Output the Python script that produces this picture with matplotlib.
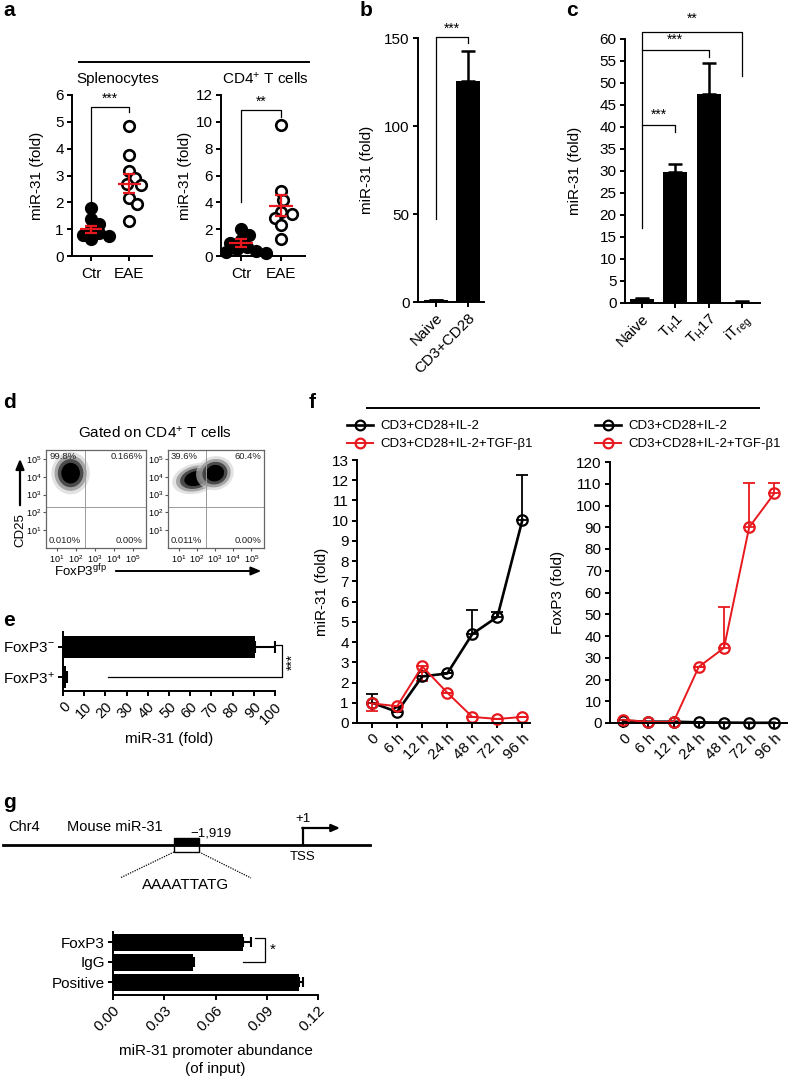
import matplotlib
matplotlib.use('Agg')
import matplotlib.pyplot as plt
from matplotlib.patches import Ellipse, Rectangle
from matplotlib.lines import Line2D
import numpy as np

plt.rcParams['font.family'] = ['Liberation Sans', 'DejaVu Sans']
plt.rcParams['mathtext.fontset'] = 'custom'
plt.rcParams['mathtext.rm'] = 'Liberation Sans'
plt.rcParams['mathtext.it'] = 'Liberation Sans:italic'
plt.rcParams['mathtext.bf'] = 'Liberation Sans:bold'
plt.rcParams['axes.linewidth'] = 1.4
plt.rcParams['xtick.major.width'] = 1.4
plt.rcParams['ytick.major.width'] = 1.4
plt.rcParams['xtick.major.size'] = 3.5
plt.rcParams['ytick.major.size'] = 3.5
plt.rcParams['xtick.direction'] = 'out'
plt.rcParams['ytick.direction'] = 'out'

RED = '#e8191e'
FS = 11

# ---------------- data ----------------
a_groups = ['Ctr', 'EAE']
a_spl_ctr = [1.8, 1.38, 1.2, 1.0, 0.85, 0.8, 0.75, 0.65]
a_spl_eae = [4.85, 3.75, 3.15, 2.9, 2.7, 2.65, 2.15, 1.95, 1.3]
a_spl_mean = [1.0, 2.7]
a_spl_sem = [0.13, 0.37]
a_cd4_ctr = [2.0, 1.6, 1.2, 1.0, 0.7, 0.5, 0.4, 0.3, 0.2]
a_cd4_eae = [9.8, 4.85, 4.2, 3.3, 3.15, 2.8, 2.3, 1.3]
a_cd4_mean = [0.95, 3.75]
a_cd4_sem = [0.3, 0.8]

b_labels = ['Naive', 'CD3+CD28']
b_values = [1.0, 125.5]
b_errors = [0.3, 17.0]

c_labels = ['Naive', r'T$_\mathrm{H}$1', r'T$_\mathrm{H}$17', r'iT$_\mathrm{reg}$']
c_values = [1.0, 29.7, 47.6, 0.3]
c_errors = [0.1, 2.0, 7.0, 0.05]

d_quad_left = ['99.8%', '0.166%', '0.010%', '0.00%']
d_quad_right = ['39.6%', '60.4%', '0.011%', '0.00%']
d_ticklabels = [r'10$^1$', r'10$^2$', r'10$^3$', r'10$^4$', r'10$^5$']

e_labels = [r'FoxP3$^{+}$', r'FoxP3$^{-}$']
e_values = [1.5, 90.5]
e_errors = [0.3, 9.5]

f_times = ['0', '6 h', '12 h', '24 h', '48 h', '72 h', '96 h']
f_series = ['CD3+CD28+IL-2', 'CD3+CD28+IL-2+TGF-β1']
f_mir_ctrl = [1.0, 0.55, 2.3, 2.45, 4.4, 5.25, 10.05]
f_mir_ctrl_err_up = [0.45, 0, 0, 0, 1.2, 0.25, 2.2]
f_mir_tgf = [0.97, 0.83, 2.8, 1.5, 0.3, 0.2, 0.3]
f_mir_tgf_err_down = [0.4, 0, 0.7, 0, 0, 0, 0]
f_fox_ctrl = [1.0, 0.6, 0.6, 0.3, 0.2, 0.1, 0.1]
f_fox_tgf = [1.5, 0.5, 0.5, 25.8, 34.5, 90.0, 105.6]
f_fox_tgf_err_up = [0, 0, 0, 0, 19.0, 20.5, 4.6]

g_labels = ['Positive', 'IgG', 'FoxP3']
g_values = [0.109, 0.047, 0.076]
g_errors = [0.0022, 0.0004, 0.005]

# ---------------- figure ----------------
W, H = 788, 1078
fig = plt.figure(figsize=(W / 100, H / 100), dpi=100)
AX_BOX = {}


def add_ax(l, t, r, b):
    ax = fig.add_axes([l / W, 1 - b / H, (r - l) / W, (b - t) / H])
    AX_BOX[ax] = (l, t, r, b)
    return ax


def ylabel_at(ax, text, xc, fs=FS):
    l, t, r, b = AX_BOX[ax]
    ax.set_ylabel(text, fontsize=fs)
    ax.yaxis.set_label_coords((xc + 7 - l) / (r - l), 0.5)


def xlabel_at(ax, text, ytop, fs=FS, **kw):
    l, t, r, b = AX_BOX[ax]
    ax.set_xlabel(text, fontsize=fs, **kw)
    ax.xaxis.set_label_coords(0.5, (b - ytop) / (b - t))


def clean(ax):
    ax.spines['top'].set_visible(False)
    ax.spines['right'].set_visible(False)


def rot_labels(ax, labels, fs=FS):
    ax.set_xticklabels(labels, rotation=45, ha='right', va='top',
                       rotation_mode='anchor', fontsize=fs)


def swarm_offsets(values, ypx, xpx, diam):
    values = np.asarray(values, float)
    order = np.argsort(values)[::-1]
    placed = []
    offs = np.zeros(len(values))
    cands = [0.0]
    for k in range(1, 40):
        cands += [k * diam * 0.2, -k * diam * 0.2]
    for i in order:
        y = values[i] * ypx
        for c in cands:
            if all((c - px) ** 2 + (y - py) ** 2 >= (diam * 0.85) ** 2 for px, py in placed):
                break
        placed.append((c, y))
        offs[i] = c / xpx
    return offs


# ---------- panel a ----------
def panel_a(ax, ctr, eae, mean, sem, ymax, ystep, ypx, ylx):
    clean(ax)
    for gi, (vals, filled) in enumerate([(ctr, True), (eae, False)]):
        offs = swarm_offsets(vals, ypx, 40.0, 10.5)
        ax.plot(gi + offs, vals, 'o', ms=7.6,
                mfc='black' if filled else 'white', mec='black', mew=1.9,
                ls='none', clip_on=False, zorder=3)
    for gi in range(2):
        ax.hlines(mean[gi], gi - 0.3, gi + 0.3, color=RED, lw=1.6, zorder=4)
    ax.errorbar([0, 1], mean, yerr=sem, fmt='none', ecolor=RED,
                elinewidth=1.6, capsize=4.5, capthick=1.6, zorder=4)
    ax.set_xlim(-0.5, 1.6)
    ax.set_ylim(0, ymax)
    ax.set_yticks(np.arange(0, ymax + 0.01, ystep))
    ax.set_xticks([0, 1])
    ax.set_xticklabels(a_groups, fontsize=FS)
    ax.tick_params(labelsize=FS, pad=2.5)
    ax.tick_params(axis='x', pad=4.5)
    ylabel_at(ax, 'miR-31 (fold)', ylx)


a1 = add_ax(72, 95, 152, 256)
panel_a(a1, a_spl_ctr, a_spl_eae, a_spl_mean, a_spl_sem, 6, 1, 26.8, 37)
a1.plot([0, 0, 1, 1], [2.05, 5.55, 5.55, 5.35], color='black', lw=0.9, clip_on=False)
a1.text(0.5, 5.6, '***', ha='center', va='bottom', fontsize=10)
a2 = add_ax(221, 95, 305, 256)
panel_a(a2, a_cd4_ctr, a_cd4_eae, a_cd4_mean, a_cd4_sem, 12, 2, 13.4, 185)
a2.plot([0, 0, 1, 1], [4.0, 10.85, 10.85, 10.35], color='black', lw=0.9, clip_on=False)
a2.text(0.5, 10.95, '**', ha='center', va='bottom', fontsize=10)

# ---------- panel b ----------
bx = add_ax(418, 38, 484, 302)
clean(bx)
bx.bar([0, 1], b_values, width=0.75, color='black')
bx.errorbar([0, 1], b_values, yerr=[[0, 0], b_errors], fmt='none', ecolor='black',
            elinewidth=1.8, capsize=5, capthick=1.8)
bx.set_xlim(-0.56, 1.5)
bx.set_ylim(0, 150)
bx.set_yticks([0, 50, 100, 150])
bx.set_xticks([0, 1])
rot_labels(bx, b_labels)
bx.tick_params(labelsize=FS, pad=2.5)
ylabel_at(bx, 'miR-31 (fold)', 367)
bx.plot([0, 0, 1, 1], [47, 150.3, 150.3, 147], color='black', lw=0.9, clip_on=False)
bx.text(0.5, 151.5, '***', ha='center', va='bottom', fontsize=10)

# ---------- panel c ----------
cx = add_ax(625, 39, 760, 303)
clean(cx)
cpos = np.arange(len(c_values))
cx.bar(cpos, c_values, width=0.72, color='black')
cx.errorbar(cpos, c_values, yerr=[[0] * 4, c_errors], fmt='none', ecolor='black',
            elinewidth=1.8, capsize=5, capthick=1.8)
cx.set_xlim(-0.51, 3.54)
cx.set_ylim(0, 60)
cx.set_yticks(np.arange(0, 61, 5))
cx.set_xticks(cpos)
rot_labels(cx, c_labels)
cx.tick_params(labelsize=FS, pad=2.5)
ylabel_at(cx, 'miR-31 (fold)', 575)
cx.plot([0, 0, 3, 3], [17, 61.7, 61.7, 51.5], color='black', lw=0.9, clip_on=False)
cx.plot([0, 2, 2], [57.6, 57.6, 56.0], color='black', lw=0.9, clip_on=False)
cx.plot([0, 1, 1], [40.4, 40.4, 38.8], color='black', lw=0.9, clip_on=False)
cx.text(1.5, 63.0, '**', ha='center', va='bottom', fontsize=10)
cx.text(1.0, 58.3, '***', ha='center', va='bottom', fontsize=10)
cx.text(0.5, 41.1, '***', ha='center', va='bottom', fontsize=10)

# ---------- panel d ----------
# cloud outlines: (centre x, centre y, width, height, angle) in decade units
d_clusters_left = [(1.72, 4.2, 1.45, 1.7, 0)]
d_clusters_right = [(1.95, 3.9, 1.9, 1.2, 15), (3.0, 4.2, 1.5, 1.35, 20)]


def panel_d(ax, quads, clusters):
    ax.set_xlim(0.42, 5.7)
    ax.set_ylim(0, 5.5)
    for s in ax.spines.values():
        s.set_color('#666666')
        s.set_linewidth(0.9)
    for (cxp, cyp, wx, wy, ang) in clusters:
        for scale, gray, alpha in [(1.4, '#d0d0d0', 0.6), (1.17, '#8a8a8a', 0.7),
                                   (0.93, '#3a3a3a', 0.85), (0.68, '#000000', 1.0)]:
            ax.add_patch(Ellipse((cxp, cyp), wx * scale, wy * scale, angle=ang,
                                 fc=gray, ec='none', alpha=alpha, lw=0))
    ax.axvline(2.5, color='#9a9a9a', lw=0.7)
    ax.axhline(2.3, color='#9a9a9a', lw=0.7)
    ax.set_xticks([1, 2, 3, 4, 5])
    ax.set_yticks([1, 2, 3, 4, 5])
    ax.set_xticklabels(d_ticklabels, fontsize=6.5)
    ax.set_yticklabels(d_ticklabels, fontsize=6.5)
    ax.tick_params(length=2, width=0.8, pad=1.5, color='#555555')
    kw = dict(fontsize=6.8, transform=ax.transAxes, color='#222222')
    ax.text(0.03, 0.975, quads[0], ha='left', va='top', **kw)
    ax.text(0.97, 0.975, quads[1], ha='right', va='top', **kw)
    ax.text(0.03, 0.03, quads[2], ha='left', va='bottom', **kw)
    ax.text(0.97, 0.03, quads[3], ha='right', va='bottom', **kw)


d1 = add_ax(46, 450, 146, 548)
panel_d(d1, d_quad_left, d_clusters_left)
d2 = add_ax(168, 450, 264, 548)
panel_d(d2, d_quad_right, d_clusters_right)

# ---------- panel e ----------
ex = add_ax(63, 632, 275, 691)
clean(ex)
ex.barh([0, 1], e_values, height=0.75, color='black')
ex.errorbar(e_values, [0, 1], xerr=[[0, 0], e_errors], fmt='none', ecolor='black',
            elinewidth=1.5, capsize=4.5, capthick=1.5)
ex.set_xlim(0, 100)
ex.set_ylim(-0.47, 1.5)
ex.set_xticks(np.arange(0, 101, 10))
ex.set_yticks([0, 1])
ex.set_yticklabels(e_labels, fontsize=FS)
rot_labels(ex, [str(v) for v in range(0, 101, 10)], fs=10.5)
ex.tick_params(pad=2.5)
xlabel_at(ex, 'miR-31 (fold)', 732)
ex.plot([21, 103.5, 103.5, 100.5], [0, 0, 1.05, 1.05], color='black', lw=0.9, clip_on=False)
ex.text(108.5, 0.5, '***', rotation=90, ha='center', va='center', fontsize=10)

# ---------- panel f ----------
tpos = np.arange(len(f_times))


def f_axes(ax, ymax, ystep, ylabel, ylx):
    clean(ax)
    ax.set_ylim(0, ymax)
    ax.set_yticks(np.arange(0, ymax + 0.01, ystep))
    ax.set_xticks(tpos)
    rot_labels(ax, f_times, fs=FS)
    ax.tick_params(axis='y', labelsize=FS)
    ax.tick_params(pad=2.5)
    ylabel_at(ax, ylabel, ylx)


lkw = dict(marker='o', ms=7.5, mfc='none', mew=1.6, clip_on=False)
f1 = add_ax(357, 460, 530, 723)
f_axes(f1, 13, 1, 'miR-31 (fold)', 322)
f1.set_xlim(-0.6, 6.3)
f1.errorbar(tpos, f_mir_ctrl, yerr=[[0] * 7, f_mir_ctrl_err_up], fmt='none',
            ecolor='black', elinewidth=1.3, capsize=4, capthick=1.3)
f1.errorbar(tpos, f_mir_tgf, yerr=[f_mir_tgf_err_down, [0] * 7], fmt='none',
            ecolor=RED, elinewidth=1.3, capsize=4, capthick=1.3)
f1.plot(tpos, f_mir_ctrl, color='black', lw=1.9, mec='black', **lkw)
f1.plot(tpos, f_mir_tgf, color=RED, lw=1.4, mec=RED, **lkw)

f2 = add_ax(610, 462, 787, 723)
f_axes(f2, 120, 10, 'FoxP3 (fold)', 558)
f2.set_xlim(-0.52, 6.5)
f2.errorbar(tpos, f_fox_tgf, yerr=[[0] * 7, f_fox_tgf_err_up], fmt='none',
            ecolor=RED, elinewidth=1.3, capsize=4, capthick=1.3)
f2.plot(tpos, f_fox_ctrl, color='black', lw=1.9, mec='black', **lkw)
f2.plot(tpos, f_fox_tgf, color=RED, lw=1.4, mec=RED, **lkw)

for ax, lx in [(f1, 347), (f2, 595)]:
    handles = [Line2D([], [], color='black', lw=1.9, marker='o', ms=7, mfc='none', mew=1.6),
               Line2D([], [], color=RED, lw=1.4, marker='o', ms=7, mfc='none', mew=1.6, mec=RED)]
    ax.legend(handles, f_series, loc='upper left', bbox_to_anchor=(lx / W, 1 - 420 / H),
              bbox_transform=fig.transFigure, frameon=False, fontsize=9.5,
              handlelength=2.0, handletextpad=0.5, labelspacing=0.45,
              borderpad=0, borderaxespad=0)

# ---------- panel g bars ----------
gx = add_ax(113, 932, 318, 995)
clean(gx)
gx.barh([0, 1, 2], g_values, height=0.85, color='black')
gx.errorbar(g_values, [0, 1, 2], xerr=[[0] * 3, g_errors], fmt='none', ecolor='black',
            elinewidth=1.5, capsize=3.5, capthick=1.5)
gx.set_xlim(0, 0.12)
gx.set_ylim(-0.65, 2.5)
gx.set_xticks([0, 0.03, 0.06, 0.09, 0.12])
rot_labels(gx, ['0.00', '0.03', '0.06', '0.09', '0.12'], fs=FS)
gx.set_yticks([0, 1, 2])
gx.set_yticklabels(g_labels, fontsize=FS)
gx.tick_params(pad=2.5)
xlabel_at(gx, 'miR-31 promoter abundance\n(of input)', 1044, linespacing=1.35)
gx.plot([0.083, 0.0888, 0.0888, 0.0762], [2.2, 2.2, 1.0, 1.0], color='black', lw=0.9,
        clip_on=False)
gx.text(0.0915, 1.6, '*', ha='left', va='center', fontsize=11)

# ---------- overlay: letters, headers, schematic ----------
ov = fig.add_axes([0, 0, 1, 1], zorder=10)
ov.set_xlim(0, W)
ov.set_ylim(H, 0)
ov.axis('off')
ov.patch.set_visible(False)

for letter, x, y in [('a', 3, 10), ('b', 360, 10), ('c', 566, 10), ('d', 3, 402),
                     ('e', 3, 620), ('f', 309, 402), ('g', 3, 802)]:
    ov.text(x, y, letter, fontsize=15, fontweight='bold', ha='left', va='center')

ov.plot([79, 309], [62, 62], color='black', lw=1.4)
ov.text(118, 79, 'Splenocytes', ha='center', va='center', fontsize=FS)
ov.text(265, 79, r'CD4$^{+}$ T cells', ha='center', va='center', fontsize=FS)
ov.plot([367, 759], [408, 408], color='black', lw=1.4)

# panel d annotations
ov.text(155, 433, r'Gated on CD4$^{+}$ T cells', ha='center', va='center', fontsize=FS)
ov.annotate('', xy=(20, 456), xytext=(20, 508),
            arrowprops=dict(arrowstyle='-|>,head_width=0.25,head_length=0.6', color='black', lw=1.6))
ov.text(20, 530, 'CD25', rotation=90, ha='center', va='center', fontsize=9.5)
ov.text(80, 571, r'FoxP3$^{\mathrm{gfp}}$', ha='center', va='center', fontsize=9.5)
ov.annotate('', xy=(264, 571), xytext=(113, 571),
            arrowprops=dict(arrowstyle='-|>,head_width=0.25,head_length=0.6', color='black', lw=1.4))

# panel g schematic
ov.plot([3, 370], [845, 845], color='black', lw=2.0)
ov.add_patch(Rectangle((174, 838), 25, 7, fc='black', ec='black', lw=1))
ov.add_patch(Rectangle((174, 845), 25, 7, fill=False, ec='black', lw=1))
ov.plot([174, 120], [852, 878], color='black', lw=0.9, ls=(0, (1, 1)))
ov.plot([199, 251], [852, 878], color='black', lw=0.9, ls=(0, (1, 1)))
ov.text(186, 885, 'AAAATTATG', ha='center', va='center', fontsize=FS)
ov.text(8, 827, 'Chr4', ha='left', va='center', fontsize=10.5)
ov.text(67, 827, 'Mouse miR-31', ha='left', va='center', fontsize=10.5)
ov.text(190, 833, '\u22121,919', ha='left', va='center', fontsize=9.5)
ov.plot([303, 303], [845, 828], color='black', lw=1.6)
ov.annotate('', xy=(340, 828), xytext=(302.2, 828),
            arrowprops=dict(arrowstyle='-|>,head_width=0.22,head_length=0.5', color='black', lw=1.6,
                            shrinkA=0, shrinkB=0))
ov.text(303, 819, '+1', ha='center', va='center', fontsize=9.5)
ov.text(303, 857, 'TSS', ha='center', va='center', fontsize=9.5)

fig.savefig('out.png', dpi=100)
